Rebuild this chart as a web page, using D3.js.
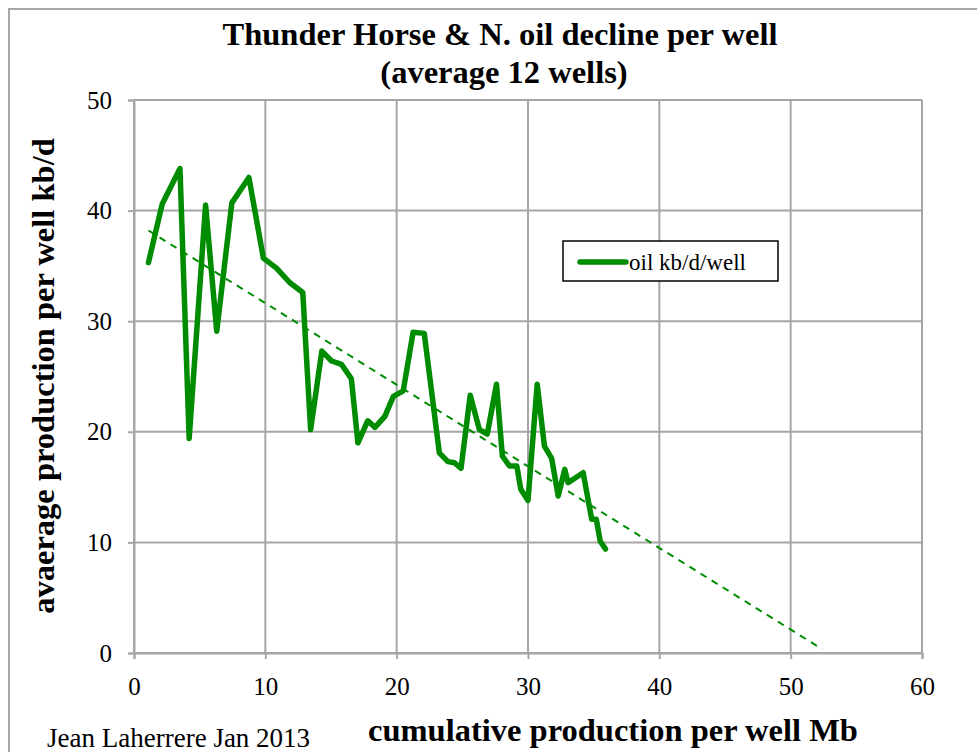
<!DOCTYPE html>
<html>
<head>
<meta charset="utf-8">
<script src="https://cdn.jsdelivr.net/npm/d3@7"></script>
<style>
body { margin: 0; background: #fff; }
svg { display: block; }
svg text { font-family: "Liberation Serif", "Times New Roman", serif; fill: #000; }
</style>
</head>
<body>
<svg id="chart"></svg>
<script>
// cumulative production per well (Mb) and oil rate per well (kb/d)
var cumProd = [1.1, 2.15, 3.5, 4.2, 5.45, 6.3, 7.45, 8.75, 9.85, 10.85, 11.85, 12.85,
  13.45, 14.3, 15.05, 15.8, 16.55, 17.05, 17.8, 18.35, 19.1, 19.75, 20.5, 21.25, 22.1,
  23.25, 23.9, 24.4, 24.9, 25.6, 26.3, 26.9, 27.6, 28.05, 28.6, 29.15, 29.45, 30.0,
  30.7, 31.25, 31.8, 32.3, 32.8, 33.05, 34.2, 34.85, 35.2, 35.5, 35.9];
var oilPerWell = [35.3, 40.6, 43.8, 19.4, 40.5, 29.1, 40.7, 43.0, 35.7, 34.8, 33.5, 32.6,
  20.2, 27.3, 26.4, 26.1, 24.8, 19.0, 21.0, 20.4, 21.4, 23.2, 23.7, 29.0, 28.9,
  18.1, 17.3, 17.2, 16.7, 23.3, 20.2, 19.8, 24.3, 17.8, 16.9, 16.9, 14.8, 13.8,
  24.3, 18.7, 17.6, 14.2, 16.6, 15.4, 16.3, 12.1, 12.1, 10.1, 9.4];
// linear trend endpoints
var trendX = [1.1, 52.4];
var trendY = [38.2, 0.35];

var xTicks = [0, 10, 20, 30, 40, 50, 60];
var yTicks = [0, 10, 20, 30, 40, 50];

var W = 977, H = 752;
var margins = {"top": 100, "left": 134, "bottom": 99, "right": 55};
var width = W - margins.left - margins.right;
var height = H - margins.top - margins.bottom;

var svg = d3.select("#chart").attr("width", W).attr("height", H);

// outer frame
svg.append("path")
  .attr("d", "M9," + H + "V9H" + W)
  .attr("fill", "none").attr("stroke", "#a6a6a6").attr("stroke-width", 2);

var xScale = d3.scaleLinear().domain([0, 60]).range([0, width]);
var yScale = d3.scaleLinear().domain([0, 50]).range([height, 0]);

var g = svg.append("g").attr("transform", "translate(" + margins.left + "," + margins.top + ")");

// grid
g.append("g").selectAll("line").data(xTicks).enter().append("line")
  .attr("x1", function(d){return xScale(d)}).attr("x2", function(d){return xScale(d)})
  .attr("y1", 0).attr("y2", height)
  .attr("stroke", "#a6a6a6").attr("stroke-width", 2);
g.append("g").selectAll("line").data(yTicks).enter().append("line")
  .attr("x1", 0).attr("x2", width)
  .attr("y1", function(d){return yScale(d)}).attr("y2", function(d){return yScale(d)})
  .attr("stroke", "#a6a6a6").attr("stroke-width", 2);

// axes
var xAxis = d3.axisBottom(xScale).tickValues(xTicks).tickSize(6).tickPadding(18);
var yAxis = d3.axisLeft(yScale).tickValues(yTicks).tickSize(6).tickPadding(16);
var xG = g.append("g").attr("transform", "translate(0," + height + ")").call(xAxis);
var yG = g.append("g").call(yAxis);
[xG, yG].forEach(function(a){
  a.attr("font-family", null).attr("font-size", null);
  a.select(".domain").attr("stroke", "#a6a6a6").attr("stroke-width", 2);
  a.selectAll(".tick line").attr("stroke", "#a6a6a6").attr("stroke-width", 2);
  a.selectAll("text").style("font-family", "'Liberation Serif', serif").style("font-size", "25px").attr("fill", "#000");
});

// trend line
var trend = trendX.map(function(x, i){return [x, trendY[i]]});
g.append("path").datum(trend)
  .attr("fill", "none").attr("stroke", "#008c00").attr("stroke-width", 2)
  .attr("stroke-dasharray", "7,6")
  .attr("d", d3.line().x(function(d){return xScale(d[0])}).y(function(d){return yScale(d[1])}));

// data line
var pts = cumProd.map(function(x, i){return [x, oilPerWell[i]]});
g.append("path").datum(pts)
  .attr("fill", "none").attr("stroke", "#008c00").attr("stroke-width", 5.5)
  .attr("stroke-linejoin", "round").attr("stroke-linecap", "round")
  .attr("d", d3.line().x(function(d){return xScale(d[0])}).y(function(d){return yScale(d[1])}));

// legend
var leg = svg.append("g").attr("transform", "translate(563,241)");
leg.append("rect").attr("width", 215).attr("height", 40)
  .attr("fill", "#fff").attr("stroke", "#000").attr("stroke-width", 1.5);
leg.append("line").attr("x1", 17).attr("x2", 63).attr("y1", 21).attr("y2", 21)
  .attr("stroke", "#008c00").attr("stroke-width", 5.5).attr("stroke-linecap", "round");
leg.append("text").attr("x", 66).attr("y", 29)
  .attr("font-size", 23).text("oil kb/d/well");

// titles
svg.append("text").attr("x", 500).attr("y", 45).attr("text-anchor", "middle")
  .attr("font-size", 32.5).attr("font-weight", "bold").text("Thunder Horse & N. oil decline per well");
svg.append("text").attr("x", 504).attr("y", 83).attr("text-anchor", "middle")
  .attr("font-size", 32.5).attr("font-weight", "bold").text("(average 12 wells)");

svg.append("text").attr("transform", "translate(54,376) rotate(-90)").attr("text-anchor", "middle")
  .attr("font-size", 32.5).attr("font-weight", "bold").text("avaerage production per well kb/d");
svg.append("text").attr("x", 613).attr("y", 741).attr("text-anchor", "middle")
  .attr("font-size", 32.5).attr("font-weight", "bold").text("cumulative production per well Mb");
svg.append("text").attr("x", 47).attr("y", 747)
  .attr("font-size", 27).text("Jean Laherrere Jan 2013");
</script>
</body>
</html>
